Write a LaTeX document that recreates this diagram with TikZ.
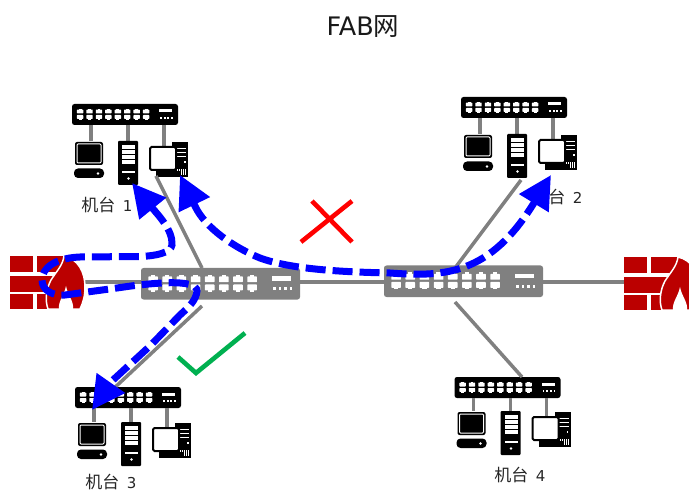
\documentclass[tikz,border=0pt]{standalone}
\usepackage{fontspec}
\setmainfont{DejaVu Sans}
\newfontfamily\cjk{Noto Sans CJK SC}
\usetikzlibrary{arrows.meta}
\definecolor{fwred}{HTML}{BB0000}
\definecolor{linkgray}{HTML}{808080}
\definecolor{flowblue}{HTML}{0000FF}
\definecolor{okgreen}{HTML}{00B050}
\tikzset{
  swbox/.style={rounded corners=2.5pt,minimum width=106pt,minimum height=21pt,inner sep=0pt,outer sep=0pt,anchor=north west,transform shape},
  link/.style={draw=linkgray,line width=3.5pt},
  flow/.style={draw=flowblue,line width=7pt,dash pattern=on 20pt off 7pt,
    {Triangle[length=33pt,width=33pt]}-{Triangle[length=33pt,width=33pt]}},
  lab/.style={font=\fontsize{15}{18}\selectfont,text=black!85,inner sep=0pt},
  verdict/.style={line width=4.6pt}
}
\newcommand{\cjklab}[1]{{\cjk\fontsize{17}{18}\selectfont 机台}\hspace{7.5pt}#1}
% name, x, y, scale, colour
\newcommand{\switchbox}[5]{%
  \begin{scope}[shift={(#2,#3)},scale=#4]
    \node[swbox,fill=#5] (#1) at (0,0) {};
    \foreach \i in {0,...,7}{
      \fill[white,rounded corners=0.6pt] ({4.9+\i*9.43},5.6) rectangle ++(6.4,3.9);
      \fill[white] ({6.7+\i*9.43},4.6) rectangle ++(2.8,1.2);
      \fill[white,rounded corners=0.6pt] ({4.9+\i*9.43},11) rectangle ++(6.4,3.9);
      \fill[white] ({6.7+\i*9.43},14.8) rectangle ++(2.8,1.2);
    }
    \fill[white] (87,5.5) rectangle (100,8.5);
    \foreach \i in {0,...,3}{\fill[white] ({88+\i*3.7},13) rectangle ++(1.8,1.8);}
  \end{scope}}
% prefix, switch x, switch y, vertical offset of the devices
\newcommand{\clientset}[4]{%
  \begin{scope}[shift={(#2,#3)}]
    \coordinate (#1a) at (19,{37+#4});
    \coordinate (#1b) at (56,{37+#4});
    \coordinate (#1c) at (92,{42+#4});
    \draw[link] (#1.south -| #1a) -- (#1a);
    \draw[link] (#1.south -| #1b) -- (#1b);
    \draw[link] (#1.south -| #1c) -- (#1c);
    \begin{scope}[shift={(0,#4)}]
    % black pc
    \fill[black,rounded corners=2pt] (3,38) rectangle (31,61);
    \draw[white,line width=1pt,rounded corners=1pt] (5,40) rectangle (29,59);
    \fill[black,rounded corners=4pt] (2,64.5) rectangle (32,74);
    \fill[white] (26,69.5) circle (1.4);
    % server
    \fill[black,rounded corners=1pt] (46,37) rectangle (66,81);
    \foreach \r in {41,46,51,56}{\fill[white] (50,\r) rectangle (63,{\r+3.9});}
    \fill[white] (50,67) rectangle (63,69);
    \fill[white] (56.5,74.5) circle (1.3);
    % white pc with tower
    \fill[black] (100,38) rectangle (116,73);
    \foreach \r in {44,48,52}{\fill[white] (104,\r) rectangle (114,{\r+1});}
    \fill[white] (112,57) rectangle (113.5,59);
    \foreach \r in {105,107,109,111,113}{\fill[white] (\r,65) rectangle ({\r+1},71);}
    \fill[black] (84,67) rectangle (108,73);
    \fill[white] (78.5,43.5) rectangle (103.5,65);
    \draw[black,line width=2pt,rounded corners=1.5pt] (78,43) rectangle (104,66);
    \end{scope}
  \end{scope}}
% x, y
\newcommand{\firewall}[2]{%
  \begin{scope}[shift={(#1,#2)}]
    \fill[fwred] (0,0) rectangle (23,16);
    \fill[fwred] (27,0) rectangle (54,16);
    \fill[fwred] (0,20) rectangle (44,35.5);
    \fill[fwred] (0,38) rectangle (23,53);
    \fill[fwred] (27,38) rectangle (40,53);
    \filldraw[fill=fwred,draw=white,line width=1.5pt] (38,53)
      .. controls (35,45) and (36,33) .. (41,24)
      .. controls (46,16) and (53,9) .. (54,0)
      .. controls (68,3) and (75,16) .. (75,31)
      .. controls (75,40) and (73,47) .. (70,53) -- cycle;
    \fill[white] (49,53) .. controls (48,45) and (54,40) .. (56,30)
      .. controls (58,40) and (64,45) .. (63,53) -- cycle;
    \draw[white,line width=1.5pt] (36,53.9) -- (72,53.9);
  \end{scope}}
\begin{document}
\begin{tikzpicture}[x=1pt,y=-1pt]
  \useasboundingbox (0,0) rectangle (689,492);
  \node[font=\fontsize{25.5}{28}\selectfont,inner sep=0pt,text=black!90] (title) at (363,26.5) {FAB{\cjk 网}};

  \coordinate (fwL) at (84,282);
  \coordinate (fwR) at (625,282);
  \switchbox{swL}{141}{268}{1.5}{linkgray}
  \switchbox{swR}{384}{265.5}{1.5}{linkgray}
  \switchbox{g1}{72}{104}{1}{black}
  \switchbox{g2}{461}{97}{1}{black}
  \switchbox{g3}{75}{387}{1}{black}
  \switchbox{g4}{454.5}{377}{1}{black}
  \clientset{g1}{72}{104}{0}
  \clientset{g2}{461}{97}{0}
  \clientset{g3}{75}{387}{-2}
  \clientset{g4}{454.5}{377}{-3}

  \coordinate (l1a) at (156,176); \coordinate (l1b) at (202,268);
  \coordinate (l2a) at (521,180); \coordinate (l2b) at (455,268);
  \coordinate (l3a) at (202,306); \coordinate (l3b) at (95,406);
  \coordinate (l4a) at (455,302); \coordinate (l4b) at (522,377);
  \draw[link] (l1a) -- (l1b);
  \draw[link] (l2a) -- (l2b);
  \draw[link] (l3a) -- (l3b);
  \draw[link] (l4a) -- (l4b);
  \draw[link] (fwL) -- (swL.west |- fwL);
  \draw[link] (swL.east |- fwL) -- (swR.west |- fwL);
  \draw[link] (swR.east |- fwL) -- (fwR);

  \firewall{10}{256}
  \begin{scope}
    \clip (600,240) rectangle (689,320);
    \firewall{624}{257}
  \end{scope}

  \node[lab] (n1) at (107,205) {\cjklab{1}};
  \node[lab] (n2) at (557,197) {\cjklab{2}};
  \node[lab] (n3) at (111,482.5) {\cjklab{3}};
  \node[lab] (n4) at (520,475) {\cjklab{4}};

  \coordinate (p1) at (180,175);
  \coordinate (p2) at (551,175);
  \coordinate (p3) at (132,183);
  \coordinate (p4) at (92,410);
  \draw[flow] (p1) -- (195,206) .. controls (205,228) and (235,248) .. (260,258)
     .. controls (290,269) and (340,272) .. (390,273)
     .. controls (445,277) and (490,275) .. (p2);
  \draw[flow] (p3) .. controls (158,215) and (173,230) .. (172,245)
     .. controls (171,253) and (155,256) .. (140,256.5) -- (80,257)
     .. controls (55,258) and (42,268) .. (42,280)
     .. controls (42,290) and (52,296) .. (65,295) -- (117,288)
     .. controls (150,283) and (197,278) .. (197,291)
     .. controls (196,300) and (190,306) .. (180,315) -- (150,346) -- (113,380) -- (p4);

  \coordinate (xa) at (312,201); \coordinate (xb) at (352,242);
  \coordinate (xc) at (352,201); \coordinate (xd) at (301,242);
  \draw[red,verdict] (xa) -- (xb);
  \draw[red,verdict] (xc) -- (xd);
  \coordinate (ca) at (178,357); \coordinate (cb) at (196,373); \coordinate (cc) at (245,333);
  \draw[okgreen,verdict] (ca) -- (cb) -- (cc);
\end{tikzpicture}
\end{document}
